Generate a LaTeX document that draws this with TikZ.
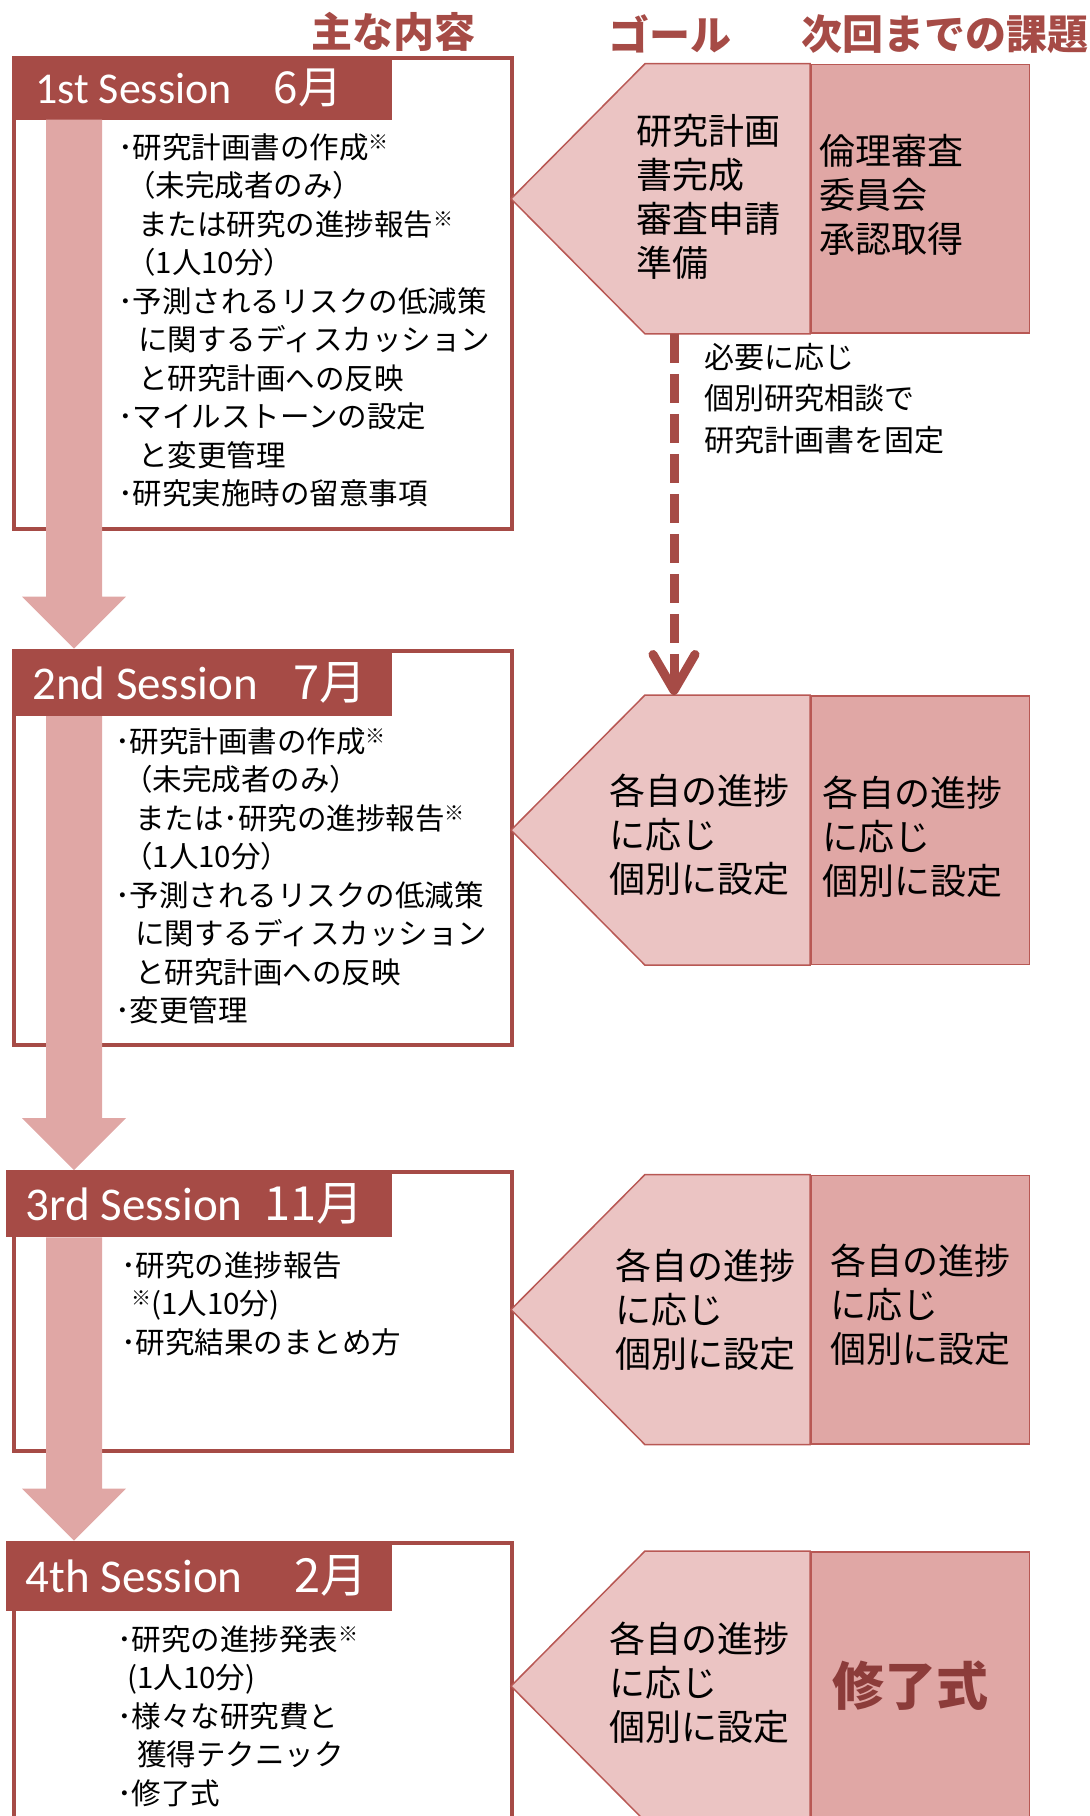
\documentclass[tikz,border=0pt]{standalone}
\usepackage{fontspec}
\setmainfont{Noto Sans CJK JP}
\newfontfamily\sessfont{Carlito}
\usetikzlibrary{calc, positioning, arrows.meta}

\definecolor{sessred}{RGB}{166,75,70}
\definecolor{flowpink}{RGB}{224,167,165}
\definecolor{goalpink}{RGB}{235,196,195}
\definecolor{taskpink}{RGB}{224,167,165}
\definecolor{edgered}{RGB}{184,88,84}
\definecolor{endred}{RGB}{140,60,58}

\newcommand{\kome}{\raisebox{0.3em}{\fontsize{20}{20}\selectfont ※}}
\newcommand{\ind}{\hspace*{20pt}}
\newcommand{\pind}{\hspace*{8pt}}

\begin{document}
\begin{tikzpicture}[
    x = 1pt, y = -1pt,
    sessbox/.style = {draw = sessred, line width = 4pt, fill = white, inner sep = 0pt,
                      anchor = north west, minimum width = 498pt},
    band/.style = {fill = sessred, inner sep = 0pt, anchor = north west},
    sesstitle/.style = {text = white, inner sep = 0pt, anchor = west,
                        font = \fontsize{47}{47}\selectfont},
    items/.style = {align = left, inner sep = 0pt, anchor = north west,
                    font = \fontsize{29.5}{38.5}\selectfont},
    headlabel/.style = {text = sessred, inner sep = 0pt,
                        font = \fontsize{41}{41}\selectfont\bfseries},
    taskbox/.style = {draw = edgered, line width = 1.5pt, fill = taskpink, inner sep = 0pt,
                      anchor = north west, minimum width = 218.5pt, minimum height = 268.7pt},
    goalleft/.style = {draw = edgered, line width = 1.5pt, fill = goalpink},
    goaltext/.style = {align = left, inner sep = 0pt, anchor = west,
                       font = \fontsize{36}{44}\selectfont},
    notetext/.style = {align = left, inner sep = 0pt, anchor = west,
                       font = \fontsize{30}{41.7}\selectfont},
    planflow/.style = {draw = sessred, line width = 9pt, dash pattern = on 29pt off 11pt,
                       -{Straight Barb[length = 36pt, width = 42pt, round]}}
  ]
  \useasboundingbox (0,0) rectangle (1090,1816);

  % session frames
  \node (s1) [sessbox, minimum height = 471.4pt] at (12,55.6)   {};
  \node (s2) [sessbox, minimum height = 394pt]   at (12,648.6)  {};
  \node (s3) [sessbox, minimum height = 279pt]   at (12,1170)   {};
  \node (s4) [sessbox, minimum height = 320pt]   at (12,1540.5) {};

  \node (b1) [band, minimum width = 379.5pt, minimum height = 63.7pt] at (12,55.6)  {};
  \node (b2) [band, minimum width = 379.5pt, minimum height = 67.2pt] at (12,648.6) {};
  \node (b3) [band, minimum width = 385.5pt, minimum height = 67pt]   at (6,1170)   {};
  \node (b4) [band, minimum width = 385.5pt, minimum height = 70pt]   at (6,1540.5) {};

  % flow from one session to the next
  \foreach \i/\j in {1/2, 2/3, 3/4}
    \fill[flowpink] ($(b\i.south -| s\i.west)+(34,0)$) -- ($(s\j.north west)+(34,-52)$)
      -- ($(s\j.north west)+(10,-52)$) -- ($(s\j.north west)+(62,0)$)
      -- ($(s\j.north west)+(114,-52)$) -- ($(s\j.north west)+(90,-52)$)
      -- ($(b\i.south -| s\i.west)+(90,0)$) -- cycle;

  \node (t1) [sesstitle, font = \fontsize{44}{44}\selectfont, right = 23pt of b1.west]
    {{\sessfont 1st Session}\hspace{42pt}6月};
  \node (t2) [sesstitle, right = 20pt of b2.west]   {{\sessfont 2nd Session}\hspace{35pt}7月};
  \node (t3) [sesstitle, right = 19.5pt of b3.west] {{\sessfont 3rd Session}\hspace{22pt}11月};
  \node (t4) [sesstitle, right = 19.5pt of b4.west] {{\sessfont 4th Session}\hspace{52pt}2月};

  \node (i1) [items] at (118,133) {･研究計画書の作成\kome\\
    \pind（未完成者のみ）\\
    \ind または研究の進捗報告\kome\\
    \pind（1人10分）\\
    ･予測されるリスクの低減策\\
    \ind に関するディスカッション\\
    \ind と研究計画への反映\\
    ･マイルストーンの設定\\
    \ind と変更管理\\
    ･研究実施時の留意事項};
  \node (i2) [items] at (115,727) {･研究計画書の作成\kome\\
    \pind（未完成者のみ）\\
    \ind または･研究の進捗報告\kome\\
    \pind（1人10分）\\
    ･予測されるリスクの低減策\\
    \ind に関するディスカッション\\
    \ind と研究計画への反映\\
    ･変更管理};
  \node (i3) [items] at (121,1251) {･研究の進捗報告\\
    \hspace*{10pt}\kome(1人10分)\\
    ･研究結果のまとめ方};
  \node (i4) [items] at (117,1625) {･研究の進捗発表\kome\\
    \hspace*{10pt}(1人10分)\\
    ･様々な研究費と\\
    \ind 獲得テクニック\\
    ･修了式};

  % goals and tasks
  \foreach \n/\y in {1/63.7, 2/695, 3/1174.5, 4/1551} {
    \node (k\n) [taskbox] at (810,\y) {};
    \path[goalleft] (k\n.north west) -- (k\n.south west) -- ++(-165,0)
      -- ($(k\n.west)+(-299,0)$) -- ($(k\n.north west)+(-165,0)$) -- cycle;
  }

  \node (gl1) [goaltext] at ($(k1.west)+(-174,-2)$) {研究計画\\書完成\\審査申請\\準備};
  \node (gr1) [goaltext] at ($(k1.west)+(9,-4)$) {倫理審査\\委員会\\承認取得};
  \node (gl2) [goaltext] at ($(k2.west)+(-201,5)$) {各自の進捗\\に応じ\\個別に設定};
  \node (gr2) [goaltext] at ($(k2.west)+(12,7)$) {各自の進捗\\に応じ\\個別に設定};
  \node (gl3) [goaltext] at ($(k3.west)+(-195,0)$) {各自の進捗\\に応じ\\個別に設定};
  \node (gr3) [goaltext] at ($(k3.west)+(20.5,-5)$) {各自の進捗\\に応じ\\個別に設定};
  \node (gl4) [goaltext] at ($(k4.west)+(-201,-3)$) {各自の進捗\\に応じ\\個別に設定};
  \node (fin) [text = endred, font = \fontsize{52}{52}\selectfont\bfseries]
    at ([xshift = -10pt]k4.center) {修了式};

  \draw[planflow] ($(k1.south west)+(-136,0)$) -- ($(k2.north west)+(-136,0)$);
  \node (memo) [notetext] at (704,398.5) {必要に応じ\\個別研究相談で\\研究計画書を固定};

  % column heads
  \node (lab1) [headlabel] at (393,32) {主な内容};
  \node (lab2) [headlabel] at (670,34) {ゴール};
  \node (lab3) [headlabel] at (945,34) {次回までの課題};
\end{tikzpicture}
\end{document}
